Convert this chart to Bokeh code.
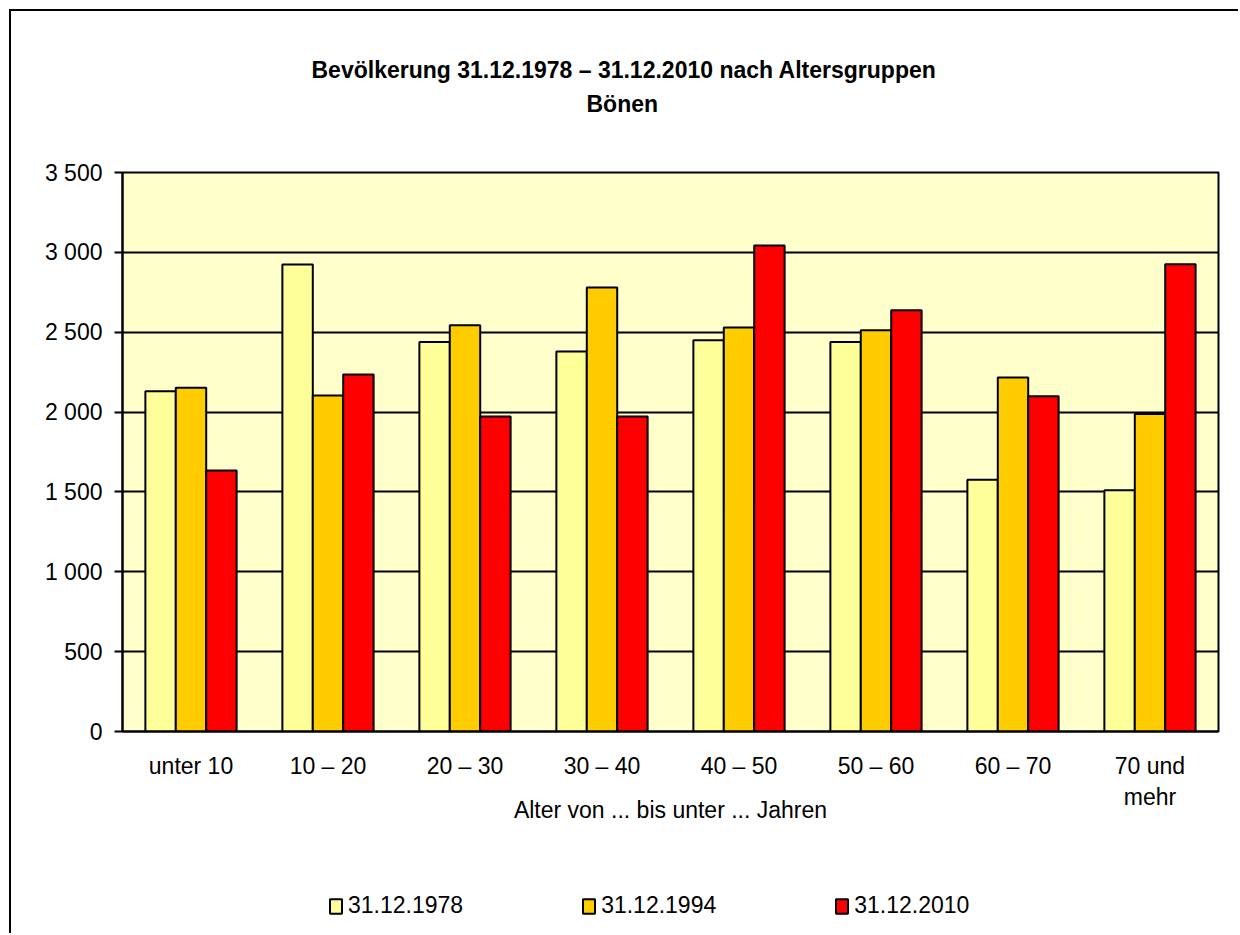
from bokeh.plotting import figure
from bokeh.layouts import column
from bokeh.models import (FactorRange, Range1d, FixedTicker, Legend, LegendItem,
                          Title, ColumnDataSource)
from bokeh.transform import dodge
from bokeh.embed import file_html
from bokeh.resources import INLINE

# ---- data ----
categories = ["unter 10", "10 – 20", "20 – 30", "30 – 40", "40 – 50",
              "50 – 60", "60 – 70", "70 und\nmehr"]
series_names = ["31.12.1978", "31.12.1994", "31.12.2010"]
v1978 = [2131, 2924, 2439, 2379, 2449, 2439, 1577, 1510]
v1994 = [2152, 2104, 2543, 2780, 2529, 2512, 2216, 1988]
v2010 = [1634, 2235, 1973, 1973, 3043, 2637, 2099, 2925]
y_ticks = [0, 500, 1000, 1500, 2000, 2500, 3000, 3500]
y_tick_labels = ["0", "500", "1 000", "1 500", "2 000", "2 500", "3 000", "3 500"]
title_text = "Bevölkerung 31.12.1978 – 31.12.2010 nach Altersgruppen"
subtitle_text = "Bönen"
x_axis_label = "Alter von ... bis unter ... Jahren"

colors = ["#FFFF99", "#FFCC00", "#FF0000"]
FONT = "Liberation Sans"
FS = "23px"
W = 1229

source = ColumnDataSource(dict(cat=categories, v1978=v1978, v1994=v1994, v2010=v2010))
x_range = FactorRange(*categories, range_padding=0, factor_padding=0)

p = figure(x_range=x_range, y_range=Range1d(0, 3500),
           width=W, height=850, output_backend="svg", toolbar_location=None,
           title=None,
           min_border_left=111, min_border_right=22,
           min_border_top=161, min_border_bottom=130)

p.background_fill_color = "#FFFFCC"
p.border_fill_color = "white"
p.outline_line_color = "black"
p.outline_line_width = 2

p.xgrid.visible = False
p.ygrid.ticker = FixedTicker(ticks=y_ticks)
p.ygrid.grid_line_color = "black"
p.ygrid.grid_line_width = 2

bw = 0.222
offsets = [-bw, 0.0, bw]
fields = ["v1978", "v1994", "v2010"]
for f, off, c in zip(fields, offsets, colors):
    p.vbar(x=dodge("cat", off, range=x_range), top=f, width=bw, source=source,
           fill_color=c, line_color="black", line_width=2)

# y axis
p.yaxis.ticker = FixedTicker(ticks=y_ticks)
p.yaxis.major_label_overrides = {t: l for t, l in zip(y_ticks, y_tick_labels)}
p.yaxis.axis_line_width = 2
p.yaxis.major_tick_in = 0
p.yaxis.major_tick_out = 8
p.yaxis.major_tick_line_width = 2
p.yaxis.minor_tick_line_color = None
p.yaxis.major_label_standoff = 12
p.yaxis.major_label_text_font = FONT
p.yaxis.major_label_text_font_size = FS
p.yaxis.major_label_text_color = "black"

# x axis
p.xaxis.axis_line_width = 2
p.xaxis.major_tick_line_color = None
p.xaxis.minor_tick_line_color = None
p.xaxis.major_label_standoff = 15
p.xaxis.major_label_text_font = FONT
p.xaxis.major_label_text_font_size = FS
p.xaxis.major_label_text_color = "black"
p.xaxis.axis_label = x_axis_label
p.xaxis.axis_label_text_font = FONT
p.xaxis.axis_label_text_font_size = FS
p.xaxis.axis_label_text_font_style = "normal"
p.xaxis.axis_label_text_color = "black"
p.xaxis.axis_label_standoff = -16

# titles (stacked outward from the frame)
p.add_layout(Title(text=" ", text_font_size="35px"), "above")
p.add_layout(Title(text=subtitle_text, align="left", offset=464, text_font=FONT,
                   text_font_size=FS, text_font_style="bold", text_color="black"), "above")
p.add_layout(Title(text=title_text, align="left", offset=189, text_font=FONT, standoff=2,
                   text_font_size=FS, text_font_style="bold", text_color="black"), "above")

# ---- legend strip below the chart ----
pl = figure(width=W, height=74, output_backend="svg", toolbar_location=None, title=None,
            x_range=x_range, y_range=Range1d(8000, 9000),
            min_border=0, min_border_left=0, min_border_right=0,
            min_border_top=0, min_border_bottom=0)
pl.xaxis.visible = False
pl.yaxis.visible = False
pl.grid.visible = False
pl.outline_line_color = None
pl.background_fill_color = "white"
pl.border_fill_color = "white"

# same series in the strip (zero width, outside its y range) serve only as legend glyphs
proxies = []
for f, off, c in zip(fields, offsets, colors):
    proxies.append(pl.vbar(x=dodge("cat", off, range=x_range), top=f, width=0, source=source,
                           fill_color=c, line_color="black", line_width=2))

legend = Legend(items=[LegendItem(label=n, renderers=[r]) for n, r in zip(series_names, proxies)],
                orientation="horizontal", location=(206, 16), spacing=118,
                glyph_width=15, glyph_height=18, label_standoff=5, padding=0, margin=0,
                border_line_color=None, background_fill_alpha=0,
                label_text_font=FONT, label_text_font_size=FS, label_text_color="black")
pl.add_layout(legend, "center")

layout = column(p, pl, spacing=0,
                styles={"position": "relative", "left": "11px", "top": "11px",
                        "box-shadow": "-2px -2px 0px 0px black"})

open("out.html", "w").write(file_html(layout, INLINE))
